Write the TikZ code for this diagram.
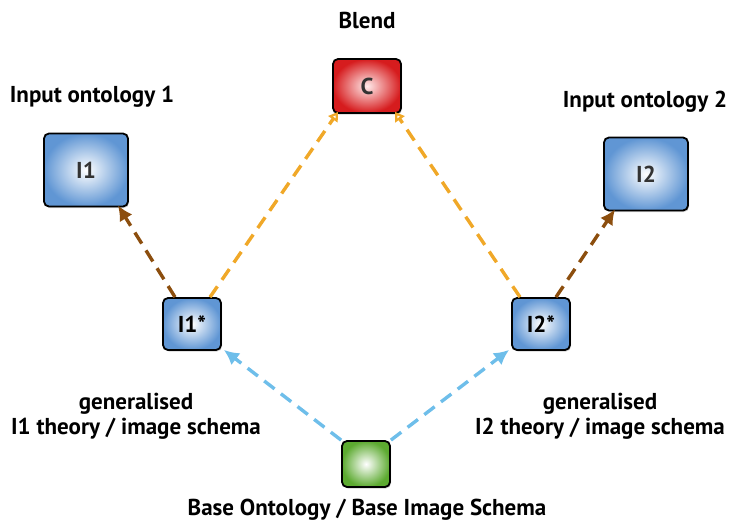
\documentclass[tikz,border=0pt]{standalone}
\usepackage{fontspec}
\setmainfont{PT Sans}
\usetikzlibrary{arrows.meta,shadows}
\definecolor{boxblue}{RGB}{96,150,212}
\definecolor{boxred}{RGB}{214,28,30}
\definecolor{boxgreen}{RGB}{92,170,48}
\definecolor{abrown}{RGB}{140,78,14}
\definecolor{aorange}{RGB}{240,168,40}
\definecolor{ablue}{RGB}{110,190,234}
\tikzset{
  box/.style={draw=black, line width=1.8pt, rounded corners=5pt, font=\bfseries\fontsize{23}{23}\selectfont, text=black!80,
    drop shadow={shadow xshift=1pt, shadow yshift=-1.5pt, opacity=0.35}},
  bluebox/.style={box, inner color=white, outer color=boxblue, minimum width=84pt, minimum height=73pt},
  smallblue/.style={box, inner color=white, outer color=boxblue, minimum width=58pt, minimum height=52pt, text=black},
  redbox/.style={box, inner color=red!8, outer color=boxred, minimum width=68pt, minimum height=54pt},
  greenbox/.style={box, inner color=white, outer color=boxgreen, minimum width=48pt, minimum height=46pt},
  lbl/.style={font=\bfseries\fontsize{23}{25}\selectfont, align=center, inner sep=0pt},
  conn/.style={line width=3.4pt, dash pattern=on 13pt off 8pt},
  brownarr/.style={conn, draw=abrown, -{Latex[length=15pt,width=15pt]}},
  orangearr/.style={conn, draw=aorange, -{Triangle[open,length=9pt,width=11pt,line width=2.2pt]}},
  bluearr/.style={conn, draw=ablue, -{Latex[length=15pt,width=15pt]}},
}
\begin{document}
\begin{tikzpicture}[x=1pt,y=-1pt]
\useasboundingbox (0,0) rectangle (731,522);
\node[redbox] (C) at (367,86) {C};
\node[bluebox] (I1) at (86,170) {I1};
\node[bluebox] (I2) at (646,174) {I2};
\node[smallblue] (I1s) at (192,324) {I1*};
\node[smallblue] (I2s) at (541,324) {I2*};
\node[greenbox] (B) at (366,464) {};
\node[lbl] (tB) at (367,20) {Blend};
\node[lbl] (t1) at (92,97) {Input ontology 1};
\node[lbl] (t2) at (645,102) {Input ontology 2};
\node[lbl] (g1) at (136,416) {generalised\\I1 theory / image schema};
\node[lbl] (g2) at (600,416) {generalised\\I2 theory / image schema};
\node[lbl] (tBase) at (367,510) {Base Ontology / Base Image Schema};
\draw[brownarr] ([xshift=-17pt]I1s.north) -- ([xshift=32pt,yshift=2pt]I1.south);
\draw[orangearr] ([xshift=18pt]I1s.north) -- ([xshift=-29pt,yshift=2pt]C.south);
\draw[orangearr] ([xshift=-21pt]I2s.north) -- ([xshift=28pt,yshift=2pt]C.south);
\draw[brownarr] ([xshift=15pt]I2s.north) -- ([xshift=-31pt,yshift=2pt]I2.south);
\draw[bluearr] (B.north west) -- ([xshift=2pt,yshift=1pt]I1s.south east);
\draw[bluearr] (B.north east) -- ([xshift=-2pt,yshift=1pt]I2s.south west);
\end{tikzpicture}
\end{document}
